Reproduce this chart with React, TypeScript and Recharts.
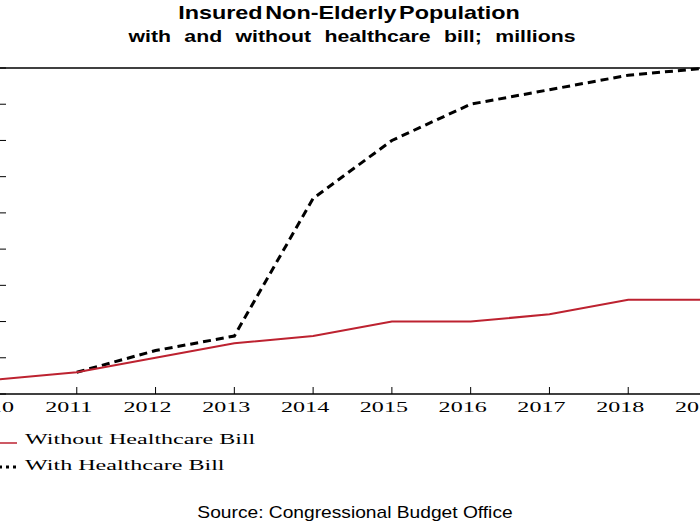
import { LineChart, Line, XAxis, YAxis, ReferenceLine } from "recharts";

const years = ["2010", "2011", "2012", "2013", "2014", "2015", "2016", "2017", "2018", "2019"];
const withoutBill = [217, 218, 220, 222, 223, 225, 225, 226, 228, 228];
const withBill = [null, 218, 221, 223, 242, 250, 255, 257, 259, 260];
const yTicks = [215, 220, 225, 230, 235, 240, 245, 250, 255, 260];

const data = years.map((year, i) => ({
  year,
  without: withoutBill[i],
  with: withBill[i],
}));

const SERIF = "'Liberation Serif', 'Times New Roman', serif";
const SANS = "'Liberation Sans', Arial, sans-serif";
const STRETCH = 1.72;

function XTick({ x, y, payload }: any) {
  return (
    <g>
      <line x1={x} x2={x} y1={y} y2={y - 7} stroke="#000" strokeWidth={1} />
      <g transform={`translate(${x - 8},${y + 18})`}>
        <text
          transform={`scale(${STRETCH},1)`}
          textAnchor="middle"
          fontFamily={SERIF}
          fontSize={14}
          fill="#000"
        >
          {payload.value}
        </text>
      </g>
    </g>
  );
}

// inward tick marks only; the value labels sit off the cropped left edge
function YTick({ x, y }: any) {
  return <line x1={x} x2={x + 8} y1={y} y2={y} stroke="#000" strokeWidth={1} />;
}

export default function App() {
  return (
    <div
      style={{
        position: "fixed",
        left: 0,
        top: 0,
        width: 700,
        height: 525,
        overflow: "hidden",
        background: "#fff",
      }}
    >
      <div style={{ position: "absolute", left: -60, top: 0 }}>
        <LineChart
          width={790}
          height={470}
          data={data}
          margin={{ top: 68, right: 23, left: 28, bottom: 46 }}
        >
          <XAxis
            dataKey="year"
            height={30}
            tickSize={0}
            tickMargin={0}
            tickLine={false}
            tick={<XTick />}
            interval={0}
            axisLine={{ stroke: "#000", strokeWidth: 1.5 }}
          />
          <YAxis
            width={30}
            domain={[215, 260]}
            ticks={yTicks}
            interval={0}
            tickSize={0}
            tickMargin={0}
            tickLine={false}
            tick={<YTick />}
            axisLine={{ stroke: "#000", strokeWidth: 1.5 }}
          />
          <ReferenceLine y={260} stroke="#000" strokeWidth={1.5} />
          <Line
            dataKey="with"
            stroke="#000"
            strokeWidth={3}
            strokeDasharray="8 5"
            dot={false}
            activeDot={false}
            isAnimationActive={false}
          />
          <Line
            dataKey="without"
            stroke="#bd2230"
            strokeWidth={2}
            dot={false}
            activeDot={false}
            isAnimationActive={false}
          />
        </LineChart>
      </div>
      <svg
        width={700}
        height={525}
        style={{ position: "absolute", left: 0, top: 0, pointerEvents: "none" }}
      >
        <g transform="translate(349,19)">
          <text
            transform="scale(1.3,1)"
            textAnchor="middle"
            fontFamily={SANS}
            fontWeight="bold"
            fontSize={18}
            style={{ wordSpacing: -3 }}
          >
            Insured Non-Elderly Population
          </text>
        </g>
        <g transform="translate(352,42)">
          <text
            transform="scale(1.25,1)"
            textAnchor="middle"
            fontFamily={SANS}
            fontWeight="bold"
            fontSize={17}
            style={{ wordSpacing: 6 }}
          >
            with and without healthcare bill; millions
          </text>
        </g>

        <line x1={-2} x2={17} y1={443} y2={443} stroke="#bd2230" strokeWidth={1.5} />
        <g transform="translate(25,444)">
          <text transform={`scale(${STRETCH},1)`} fontFamily={SERIF} fontSize={14} fill="#000">
            Without Healthcare Bill
          </text>
        </g>
        <line
          x1={-1}
          x2={20}
          y1={467}
          y2={467}
          stroke="#000"
          strokeWidth={3}
          strokeDasharray="3 4"
        />
        <g transform="translate(25,470)">
          <text transform={`scale(${STRETCH},1)`} fontFamily={SERIF} fontSize={14} fill="#000">
            With Healthcare Bill
          </text>
        </g>

        <g transform="translate(355,518)">
          <text transform="scale(1.2,1)" textAnchor="middle" fontFamily={SANS} fontSize={16} fill="#000">
            Source: Congressional Budget Office
          </text>
        </g>
      </svg>
    </div>
  );
}
